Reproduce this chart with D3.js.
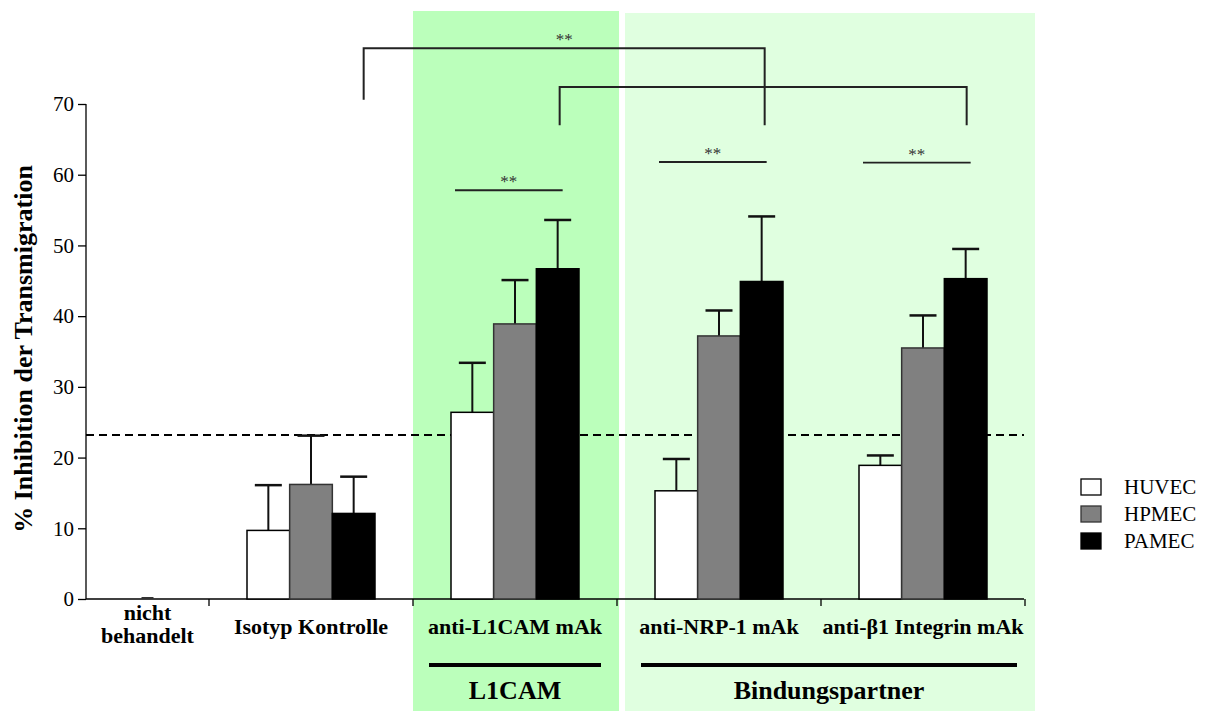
<!DOCTYPE html>
<html>
<head>
<meta charset="utf-8">
<script src="https://cdn.jsdelivr.net/npm/d3@7"></script>
<style>
  body { margin: 0; background: #fff; }
  text { font-family: "Liberation Serif", "Times New Roman", serif; }
</style>
</head>
<body>
<div id="container"></div>
<script>
const WIDTH = 1211;
const HEIGHT = 711;

// data
var categories = ["nicht behandelt", "Isotyp Kontrolle", "anti-L1CAM mAk", "anti-NRP-1 mAk", "anti-\u03b21 Integrin mAk"];
var series = ["HUVEC", "HPMEC", "PAMEC"];
var huvec = [0, 9.7, 26.4, 15.3, 18.9];
var hpmec = [0, 16.2, 38.9, 37.2, 35.5];
var pamec = [0, 12.1, 46.7, 44.9, 45.3];
var huvecErr = [0, 6.4, 7.0, 4.5, 1.4];
var hpmecErr = [0, 6.9, 6.2, 3.6, 4.6];
var pamecErr = [0, 5.2, 6.9, 9.2, 4.2];
var yTicks = [0, 10, 20, 30, 40, 50, 60, 70];
var baselineValue = 23.2;
var colors = ["#ffffff", "#808080", "#000000"];

// significance lines inside a group: [category, y value]
var innerSig = [
    ["anti-L1CAM mAk", 57.8],
    ["anti-NRP-1 mAk", 61.8],
    ["anti-\u03b21 Integrin mAk", 61.7]
];

var drawChart = function () {
    var svg = d3.select("#container").append("svg")
        .attr("width", WIDTH)
        .attr("height", HEIGHT);

    var x = d3.scaleBand().domain(categories).range([5, 1025]);
    var bw = x.bandwidth();
    var groupWidth = 128;
    var xs = d3.scaleBand().domain(series).range([bw / 2 - groupWidth / 2, bw / 2 + groupWidth / 2]);
    var y = d3.scaleLinear().domain([0, 70]).range([599, 104]);
    var axisLeft = 86, axisRight = 1024;

    // background shading
    svg.append("rect")
        .attr("x", x("anti-L1CAM mAk"))
        .attr("y", 11)
        .attr("width", bw + 2)
        .attr("height", HEIGHT - 11)
        .attr("fill", "#bbffbb");
    svg.append("rect")
        .attr("x", x("anti-NRP-1 mAk") + 8)
        .attr("y", 13)
        .attr("width", x("anti-\u03b21 Integrin mAk") + bw + 10 - x("anti-NRP-1 mAk") - 8)
        .attr("height", HEIGHT - 13)
        .attr("fill", "#e0ffe0");

    // y axis
    var yAxis = svg.append("g")
        .attr("transform", "translate(" + axisLeft + ",0)")
        .call(d3.axisLeft(y).tickValues(yTicks).tickSize(8).tickPadding(4));
    yAxis.select(".domain").attr("stroke", "#000").attr("stroke-width", 1.3)
        .attr("d", "M0," + y(70) + "V" + y(0));
    yAxis.selectAll(".tick line").attr("stroke", "#000").attr("stroke-width", 1.3);
    yAxis.selectAll(".tick text")
        .attr("font-size", 21)
        .attr("fill", "#000")
        .style("font-family", "'Liberation Serif', serif");

    // x axis line and ticks at band edges
    svg.append("line")
        .attr("x1", axisLeft).attr("x2", axisRight)
        .attr("y1", y(0)).attr("y2", y(0))
        .attr("stroke", "#000").attr("stroke-width", 1.5);
    svg.selectAll(".xtick")
        .data(categories)
        .enter().append("line")
        .attr("class", "xtick")
        .attr("x1", function (d) { return x(d) + bw; })
        .attr("x2", function (d) { return x(d) + bw; })
        .attr("y1", y(0)).attr("y2", y(0) + 7)
        .attr("stroke", "#000").attr("stroke-width", 1.3);

    // dashed reference line
    svg.append("line")
        .attr("x1", axisLeft).attr("x2", axisRight)
        .attr("y1", y(baselineValue)).attr("y2", y(baselineValue))
        .attr("stroke", "#000").attr("stroke-width", 2)
        .attr("stroke-dasharray", "8,5");

    // bars
    var values = [huvec, hpmec, pamec];
    var errors = [huvecErr, hpmecErr, pamecErr];
    var barData = [];
    categories.forEach(function (c, i) {
        series.forEach(function (s, j) {
            barData.push({ cat: c, ser: s, idx: j, v: values[j][i], e: errors[j][i] });
        });
    });

    var groups = svg.selectAll(".bar")
        .data(barData)
        .enter().append("g")
        .attr("class", "bar")
        .attr("transform", function (d) { return "translate(" + (x(d.cat) + xs(d.ser)) + ",0)"; });

    groups.filter(function (d) { return d.e > 0; }).each(function (d) {
        var g = d3.select(this);
        var cx = xs.bandwidth() / 2;
        g.append("line")
            .attr("x1", cx).attr("x2", cx)
            .attr("y1", y(d.v)).attr("y2", y(d.v + d.e))
            .attr("stroke", "#111").attr("stroke-width", 2);
        g.append("line")
            .attr("x1", cx - 13.5).attr("x2", cx + 13.5)
            .attr("y1", y(d.v + d.e)).attr("y2", y(d.v + d.e))
            .attr("stroke", "#111").attr("stroke-width", 2.5);
    });

    groups.append("rect")
        .attr("x", 0)
        .attr("y", function (d) { return y(d.v); })
        .attr("width", xs.bandwidth())
        .attr("height", function (d) { return y(0) - y(d.v); })
        .attr("fill", function (d) { return colors[d.idx]; })
        .attr("stroke", function (d) { return d.idx === 1 ? "#333" : "#000"; })
        .attr("stroke-width", 1.5);

    // zero bars mark
    svg.append("line")
        .attr("x1", (axisLeft + x("nicht behandelt") + bw) / 2 - 6)
        .attr("x2", (axisLeft + x("nicht behandelt") + bw) / 2 + 6)
        .attr("y1", y(0) - 1).attr("y2", y(0) - 1)
        .attr("stroke", "#333").attr("stroke-width", 2);

    // category labels
    var labelX = function (c) {
        if (c === "nicht behandelt") return (axisLeft + x(c) + bw) / 2;
        return x(c) + bw / 2;
    };
    categories.forEach(function (c) {
        var t = svg.append("text")
            .attr("x", labelX(c))
            .attr("text-anchor", "middle")
            .attr("font-size", 22)
            .attr("font-weight", "bold");
        if (c === "nicht behandelt") {
            t.append("tspan").attr("x", labelX(c)).attr("y", 620).text("nicht");
            t.append("tspan").attr("x", labelX(c)).attr("y", 643).text("behandelt");
        } else {
            t.attr("y", 634).text(c);
        }
    });

    // group labels with bars
    var groupLabels = [
        { text: "L1CAM", x1: x("anti-L1CAM mAk") + bw / 2 - 86, x2: x("anti-L1CAM mAk") + bw / 2 + 86 },
        { text: "Bindungspartner", x1: x("anti-NRP-1 mAk") + 24, x2: x("anti-\u03b21 Integrin mAk") + bw - 8 }
    ];
    groupLabels.forEach(function (g) {
        svg.append("line")
            .attr("x1", g.x1).attr("x2", g.x2)
            .attr("y1", 665).attr("y2", 665)
            .attr("stroke", "#000").attr("stroke-width", 4);
        svg.append("text")
            .attr("x", (g.x1 + g.x2) / 2)
            .attr("y", 699)
            .attr("text-anchor", "middle")
            .attr("font-size", 26)
            .attr("font-weight", "bold")
            .text(g.text);
    });

    // inner significance lines
    innerSig.forEach(function (s) {
        var x1 = x(s[0]) + xs("HUVEC") + 4;
        var x2 = x(s[0]) + xs("PAMEC") + xs.bandwidth() / 2 + 5;
        svg.append("line")
            .attr("x1", x1).attr("x2", x2)
            .attr("y1", y(s[1])).attr("y2", y(s[1]))
            .attr("stroke", "#222").attr("stroke-width", 1.8);
        svg.append("text")
            .attr("x", (x1 + x2) / 2)
            .attr("y", y(s[1]) - 3)
            .attr("text-anchor", "middle")
            .attr("font-size", 17)
            .attr("fill", "#333")
            .text("**");
    });

    // comparison brackets
    var blackCenter = function (c) { return x(c) + xs("PAMEC") + xs.bandwidth() / 2; };
    var bracket = function (xa, xb, yTop, ya, yb) {
        svg.append("path")
            .attr("d", "M" + xa + "," + y(ya) + "V" + y(yTop) + "H" + xb + "V" + y(yb))
            .attr("fill", "none")
            .attr("stroke", "#222")
            .attr("stroke-width", 2);
    };
    var bx1 = blackCenter("Isotyp Kontrolle") + 10;
    var bx2 = blackCenter("anti-NRP-1 mAk") + 3;
    bracket(bx1, bx2, 77.9, 70.6, 67.0);
    bracket(blackCenter("anti-L1CAM mAk") + 2, blackCenter("anti-\u03b21 Integrin mAk") + 1, 72.4, 67.0, 67.0);
    svg.append("text")
        .attr("x", (bx1 + bx2) / 2)
        .attr("y", y(77.9) - 3)
        .attr("text-anchor", "middle")
        .attr("font-size", 17)
        .attr("fill", "#333")
        .text("**");

    // y axis title
    svg.append("text")
        .attr("transform", "translate(23," + 349 + ") rotate(-90)")
        .attr("text-anchor", "middle")
        .attr("dominant-baseline", "central")
        .attr("font-size", 26)
        .attr("font-weight", "bold")
        .text("% Inhibition der Transmigration");

    // legend
    var legend = svg.selectAll(".legend")
        .data(series)
        .enter().append("g")
        .attr("class", "legend")
        .attr("transform", function (d, i) { return "translate(1081," + (487 + i * 27) + ")"; });
    legend.append("rect")
        .attr("x", 0).attr("y", -8)
        .attr("width", 20).attr("height", 16)
        .attr("fill", function (d, i) { return colors[i]; })
        .attr("stroke", function (d, i) { return i === 1 ? "#333" : "#000"; })
        .attr("stroke-width", 1.3);
    legend.append("text")
        .attr("x", 43)
        .attr("y", 7)
        .attr("font-size", 21)
        .text(function (d) { return d; });
};

window.onload = drawChart;
</script>
</body>
</html>
